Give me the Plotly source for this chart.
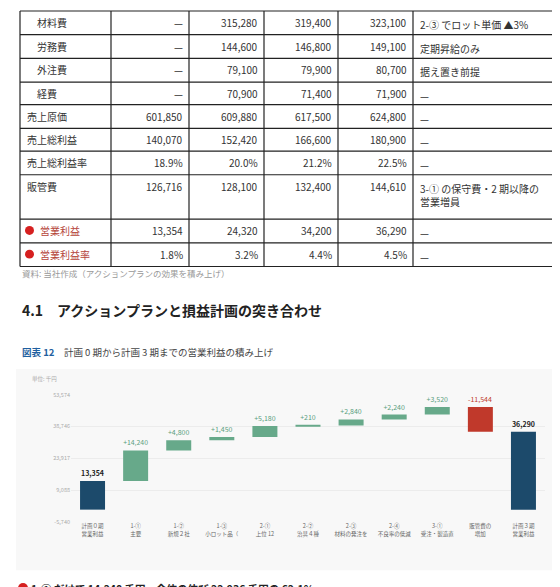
import plotly.graph_objects as go

W, H = 560, 587
FONT = "Noto Sans CJK JP"

# ---- table data ----
row_labels = ["材料費", "労務費", "外注費", "経費", "売上原価", "売上総利益", "売上総利益率", "販管費", "営業利益", "営業利益率"]
row_indent = [True, True, True, True, False, False, False, False, False, False]
col0 = ["—", "—", "—", "—", "601,850", "140,070", "18.9%", "126,716", "13,354", "1.8%"]
col1 = ["315,280", "144,600", "79,100", "70,900", "609,880", "152,420", "20.0%", "128,100", "24,320", "3.2%"]
col2 = ["319,400", "146,800", "79,900", "71,400", "617,500", "166,600", "21.2%", "132,400", "34,200", "4.4%"]
col3 = ["323,100", "149,100", "80,700", "71,900", "624,800", "180,900", "22.5%", "144,610", "36,290", "4.5%"]
notes = ["2-③ でロット単価 ▲3%", "定期昇給のみ", "据え置き前提", "—", "—", "—", "—",
         "3-① の保守費・2 期以降の<br>営業増員", "—", "—"]
red_rows = [8, 9]

# ---- waterfall data ----
wf_cats = ["計画０期<br>営業利益", "1-①<br>主要", "1-②<br>新規２社", "1-③<br>小ロット品（", "2-①<br>上位 12",
           "2-②<br>治具４種", "2-③<br>材料の発注を", "2-④<br>不良率の低減", "3-①<br>受注・製造直",
           "販管費の<br>増加", "計画３期<br>営業利益"]
wf_vals = [13354, 14240, 4800, 1450, 5180, 210, 2840, 2240, 3520, -11544, 36290]
wf_text = ["<b>13,354</b>", "+14,240", "+4,800", "+1,450", "+5,180", "+210", "+2,840", "+2,240", "+3,520", "-11,544", "<b>36,290</b>"]
wf_measure = ["absolute"] + ["relative"] * 9 + ["total"]
y_ticks = [-5740, 9088, 23917, 38746, 53574]
y_ticklabels = ["-5,740", "9,088", "23,917", "38,746", "53,574"]

def px(x): return x / W
def py(y): return 1 - y / H

fig = go.Figure()
shapes, ann = [], []

def A(**kw):
    kw.setdefault("xref", "paper"); kw.setdefault("yref", "paper"); kw.setdefault("showarrow", False)
    ann.append(kw)

# chart background panel
shapes.append(dict(type="rect", xref="paper", yref="paper", x0=px(8), x1=px(548), y0=py(566), y1=py(362),
                   fillcolor="#f8f8f8", line=dict(width=0), layer="below"))

# table grid
col_x = [12, 103, 181, 256, 330, 405, 548]
row_y = [-1, 23, 47, 71, 94, 118, 141, 165, 210, 234, 258]
for x in col_x:
    shapes.append(dict(type="line", xref="paper", yref="paper", x0=px(x), x1=px(x), y0=py(row_y[0]), y1=py(row_y[-1]),
                       line=dict(color="#222", width=1.2)))
for y in row_y:
    shapes.append(dict(type="line", xref="paper", yref="paper", x0=px(col_x[0]), x1=px(col_x[-1]), y0=py(y), y1=py(y),
                       line=dict(color="#222", width=1.2)))

cols = [col0, col1, col2, col3]
for i, lab in enumerate(row_labels):
    ytop = row_y[i]
    ycen = ytop + 11.5
    red = i in red_rows
    lx = 27 if row_indent[i] else 17
    if red:
        shapes.append(dict(type="circle", xref="paper", yref="paper", x0=px(17), x1=px(26), y0=py(ycen + 4.5), y1=py(ycen - 4.5),
                           fillcolor="#d62020", line=dict(width=0)))
        lx = 30
    A(x=px(lx), y=py(ycen), text=lab, xanchor="left", yanchor="middle",
      font=dict(size=10, color="#b5443a" if red else "#333", family=FONT))
    for c, vals in enumerate(cols):
        A(x=px(col_x[c + 2] - 4), y=py(ycen), text=vals[i], xanchor="right", yanchor="middle",
          font=dict(size=10, color="#333", family=FONT))
    A(x=px(410), y=py(ytop + 4), text=notes[i], xanchor="left", yanchor="top", align="left",
      font=dict(size=10, color="#333", family=FONT))

A(x=px(12), y=py(265), text="資料: 当社作成（アクションプランの効果を積み上げ）", xanchor="left", yanchor="middle",
  font=dict(size=8.5, color="#999", family=FONT))
A(x=px(12), y=py(302), text="<b>4.1　アクションプランと損益計画の突き合わせ</b>", xanchor="left", yanchor="middle",
  font=dict(size=14, color="#222", family=FONT))
A(x=px(12), y=py(345), text="<b><span style='color:#1f5fa0'>図表 12</span></b>　計画 0 期から計画 3 期までの営業利益の積み上げ",
  xanchor="left", yanchor="middle", font=dict(size=9.5, color="#444", family=FONT))
A(x=px(22), y=py(372), text="単位: 千円", xanchor="left", yanchor="middle", font=dict(size=5.5, color="#aaa", family=FONT))
shapes.append(dict(type="circle", xref="paper", yref="paper", x0=px(10), x1=px(20), y0=py(589), y1=py(579),
                   fillcolor="#d62020", line=dict(width=0)))
A(x=px(21), y=py(584), text="<b>1-① だけで 14,240 千円。全体の伸び 22,936 千円の 62.1%。</b>", xanchor="left", yanchor="middle",
  font=dict(size=10.5, color="#222", family=FONT))

# label of the decrease bar placed above its top (start level)
dec_i = 9
dec_top = sum(wf_vals[:dec_i])
A(x=wf_cats[dec_i], y=dec_top, xref="x", yref="y", text=wf_text[dec_i], xanchor="center", yanchor="bottom",
  yshift=1, font=dict(size=7, color="#c0392b", family=FONT))
trace_text = [t if i != dec_i else "" for i, t in enumerate(wf_text)]

text_colors = ["#222"] + ["#5a9e7e"] * 8 + ["#c0392b"] + ["#222"]
fig.add_trace(go.Waterfall(
    x=wf_cats, y=wf_vals, measure=wf_measure, text=trace_text, textposition="outside",
    textfont=dict(size=7, color=text_colors, family=FONT),
    increasing=dict(marker=dict(color="#67a98a")),
    decreasing=dict(marker=dict(color="#c0392b")),
    totals=dict(marker=dict(color="#1c4a6b")),
    connector=dict(visible=False), width=0.58, cliponaxis=False, showlegend=False,
))

fig.update_layout(
    width=W, height=H, margin=dict(l=0, r=0, t=0, b=0),
    paper_bgcolor="white", plot_bgcolor="rgba(0,0,0,0)",
    shapes=shapes, annotations=ann, font=dict(family=FONT),
    xaxis=dict(domain=[px(63), px(537)], tickfont=dict(size=5.5, color="#666"), showgrid=False,
               showline=False, ticks=""),
    yaxis=dict(domain=[py(517), py(388)], range=[-5740, 53574], tickvals=y_ticks, ticktext=y_ticklabels,
               tickfont=dict(size=5.5, color="#aaa"), gridcolor="#ececec", zeroline=False, showline=False),
)
fig.write_html("out.html")
